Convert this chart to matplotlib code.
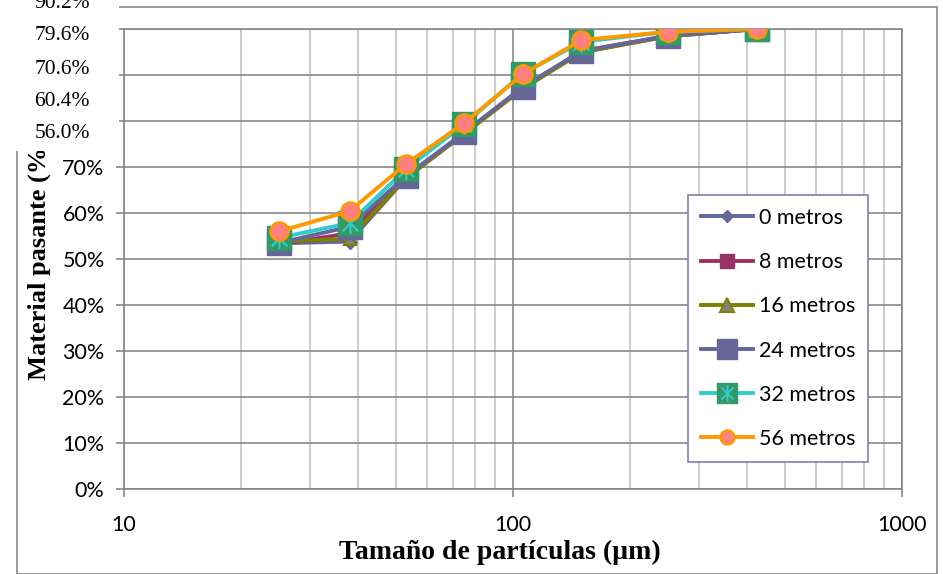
import matplotlib
matplotlib.use('Agg')
import matplotlib.pyplot as plt
from matplotlib.lines import Line2D
from matplotlib.patches import Rectangle
from matplotlib.path import Path
from matplotlib.ticker import FixedLocator, FixedFormatter, LogLocator, NullFormatter
from matplotlib.legend_handler import HandlerTuple

# ==================================================================
# datos: curvas granulométricas (material pasante vs tamaño)

sizes = [25, 38, 53, 75, 106, 150, 250, 425]
m0 = [53.4, 53.8, 67.5, 77.3, 87.2, 95.0, 98.4, 100.0]
m8 = [53.2, 55.6, 67.8, 77.5, 87.3, 95.2, 98.5, 100.0]
m16 = [53.8, 54.4, 67.6, 77.2, 87.0, 94.9, 98.4, 100.0]
m24 = [53.5, 57.0, 68.0, 77.5, 87.4, 95.2, 98.5, 100.0]
m32 = [54.6, 57.8, 69.5, 79.3, 90.3, 97.2, 99.4, 100.0]
m56 = [56.0, 60.4, 70.6, 79.6, 90.2, 97.6, 99.4, 100.0]
labels = ['0 metros', '8 metros', '16 metros', '24 metros', '32 metros', '56 metros']
y_ticks = [0, 10, 20, 30, 40, 50, 60, 70, 80, 90, 100]
# 80-100 % quedan tapados por el recuadro blanco
y_ticklabels = ['0%', '10%', '20%', '30%', '40%', '50%', '60%', '70%', '', '', '']
# etiquetas de datos (56 metros) que quedaron arriba a la izquierda
tag_labels = ['90.2%', '79.6%', '70.6%', '60.4%', '56.0%']

W, H = 943, 574
sans = ['Lato', 'DejaVu Sans']
serif = ['Liberation Serif', 'DejaVu Serif']

# marcador asterisco (línea vertical + X)
star = Path([(0, -1), (0, 1), (-0.75, -0.75), (0.75, 0.75), (-0.75, 0.75), (0.75, -0.75)],
            [Path.MOVETO, Path.LINETO, Path.MOVETO, Path.LINETO, Path.MOVETO, Path.LINETO])

fig = plt.figure(figsize=(W / 100, H / 100), dpi=100)
ax = fig.add_axes([124 / W, 1 - 489 / H, (902 - 124) / W, (489 - 29) / H])

lw = 2.8
ax.plot(sizes, m0, color='#666699', lw=lw, marker='D', ms=7, mfc='#666699', mec='#666699', zorder=3)
ax.plot(sizes, m8, color='#993366', lw=lw, marker='s', ms=8.5, mfc='#993366', mec='#993366', zorder=3)
ax.plot(sizes, m16, color='#808000', lw=lw, marker='^', ms=9, mfc='#808080', mec='#808000', mew=1.5, zorder=3)
ax.plot(sizes, m24, color='#666699', lw=lw, marker='s', ms=17, mfc='#666699', mec='#666699', zorder=3)
ax.plot(sizes, m32, color='#33CCCC', lw=lw, marker='s', ms=17, mfc='#339966', mec='#339966', zorder=3)
ax.plot(sizes, m32, ls='none', marker=star, ms=15, mec='#33CCCC', mew=1.5, zorder=3)
ax.plot(sizes, m56, color='#FF9900', lw=lw, marker='o', ms=13, mfc='#FF8080', mec='#FF9900', mew=1.8, zorder=3)

ax.set_xscale('log')
ax.set_xlim(10, 1000)
ax.set_ylim(0, 100)

ax.xaxis.set_major_locator(FixedLocator([10, 100, 1000]))
ax.xaxis.set_major_formatter(FixedFormatter(['10', '100', '1000']))
ax.xaxis.set_minor_locator(LogLocator(base=10, subs=range(2, 10)))
ax.xaxis.set_minor_formatter(NullFormatter())
ax.yaxis.set_major_locator(FixedLocator(y_ticks))
ax.yaxis.set_major_formatter(FixedFormatter(y_ticklabels))

ax.grid(True, which='major', color='#878787', lw=1.2, zorder=0)
ax.grid(True, which='minor', axis='x', color='#C4C4C4', lw=1.2, zorder=0)
ax.set_axisbelow(True)

for s in ax.spines.values():
    s.set_color('#878787')
    s.set_linewidth(1.2)

ax.tick_params(axis='both', which='major', direction='out', length=6, width=1.2,
               color='#878787', labelsize=15.5)
ax.tick_params(axis='y', pad=8)
ax.tick_params(axis='x', pad=13)
ax.tick_params(axis='x', which='minor', length=0)
for t in ax.get_xticklabels() + ax.get_yticklabels():
    t.set_family(sans)

ax.set_xlabel('Tamaño de partículas (µm)', family=serif, fontweight='bold', fontsize=20)
ax.set_ylabel('Material pasante (%)', family=serif, fontweight='bold', fontsize=19)
ax.xaxis.set_label_coords((500 - 124) / (902 - 124), -(552 - 489) / (489 - 29))
ax.yaxis.set_label_coords(-(124 - 39) / (902 - 124), (489 - 259) / (489 - 29))
ax.yaxis.label.set_va('center')
ax.xaxis.label.set_va('center')

# leyenda con marcadores de tamaño propio
h0 = Line2D([], [], color='#666699', lw=lw, marker='D', ms=6.5, mfc='#666699', mec='#666699')
h8 = Line2D([], [], color='#993366', lw=lw, marker='s', ms=10, mfc='#993366', mec='#993366')
h16 = Line2D([], [], color='#808000', lw=lw, marker='^', ms=10, mfc='#808080', mec='#808000', mew=1.5)
h24 = Line2D([], [], color='#666699', lw=lw, marker='s', ms=14, mfc='#666699', mec='#666699')
h32a = Line2D([], [], color='#33CCCC', lw=lw, marker='s', ms=14, mfc='#339966', mec='#339966')
h32b = Line2D([], [], ls='none', marker=star, ms=12, mec='#33CCCC', mew=1.3)
h56 = Line2D([], [], color='#FF9900', lw=lw, marker='o', ms=10, mfc='#FF8080', mec='#FF9900', mew=1.8)

leg = ax.legend([h0, h8, h16, h24, (h32a, h32b), h56], labels,
                handler_map={tuple: HandlerTuple(ndivide=1)},
                loc='upper left', bbox_to_anchor=(688 / W, 1 - 195 / H),
                bbox_transform=fig.transFigure, prop={'family': sans, 'size': 15.5},
                frameon=True, fancybox=False, edgecolor='#7F7FAF', framealpha=1,
                handlelength=2.4, handletextpad=0.3, labelspacing=1.125,
                borderpad=0.6, borderaxespad=0)
leg.get_frame().set_linewidth(1.2)

# marco exterior del gráfico
fig.patches.append(Rectangle((17 / W, 0), (937 - 17) / W, 1 - 7 / H, transform=fig.transFigure,
                             fill=False, edgecolor='#878787', lw=1.2, zorder=4))

# recuadro blanco que tapa la esquina superior izquierda
fig.patches.append(Rectangle((0, 1 - 151 / H), 119 / W, 151 / H, transform=fig.transFigure,
                             facecolor='white', edgecolor='none', zorder=5))

ys = [3, 36, 69, 101, 134]
for lab, yp in zip(tag_labels, ys):
    fig.text(90 / W, 1 - yp / H, lab, ha='right', va='center', family=serif,
             fontsize=15.5, color='black', zorder=6)

fig.savefig('out.png', dpi=100)
